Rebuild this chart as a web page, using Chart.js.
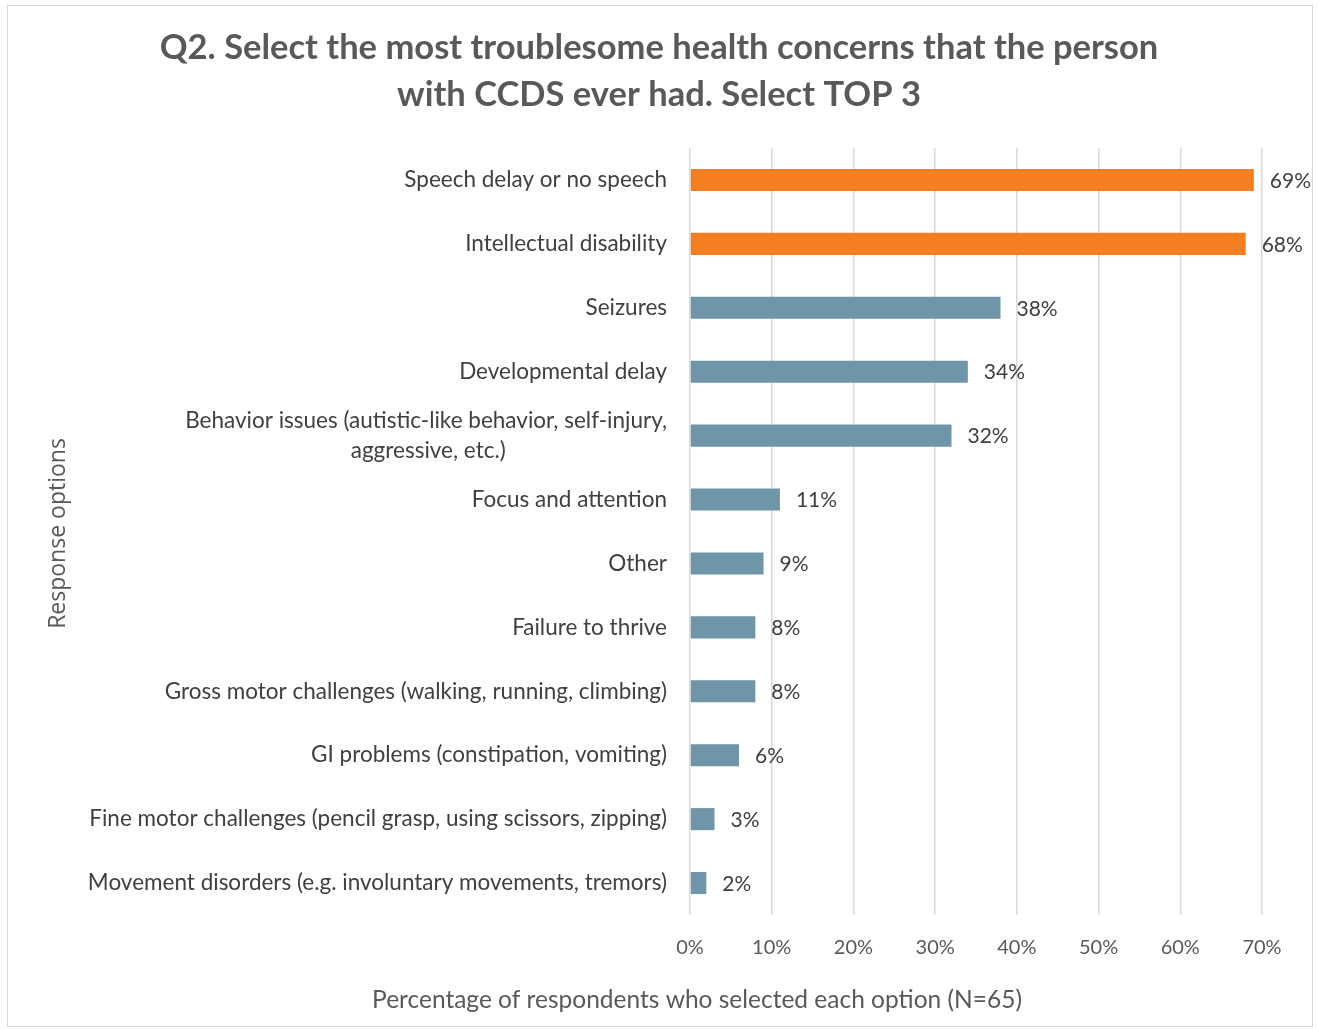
<!DOCTYPE html>
<html>
<head>
<meta charset="utf-8">
<script src="https://cdn.jsdelivr.net/npm/chart.js@4/dist/chart.umd.min.js"></script>
<style>
  html, body { margin: 0; padding: 0; background: #fff; }
  #wrap {
    position: absolute; left: 7px; top: 5px;
    width: 1306px; height: 1022px;
    border: 1px solid #d9d9d9; box-sizing: border-box;
  }
  #chart { display: block; }
</style>
</head>
<body>
<div id="wrap"><canvas id="chart" width="1304" height="1020"></canvas></div>
<script>
/* ── datos ─────────────────────────────────────────── */
const OPTIONS = [
  'Speech delay or no speech',
  'Intellectual disability',
  'Seizures',
  'Developmental delay',
  ['Behavior issues (autistic-like behavior, self-injury,', 'aggressive, etc.)'],
  'Focus and attention',
  'Other',
  'Failure to thrive',
  'Gross motor challenges (walking, running, climbing)',
  'GI problems (constipation, vomiting)',
  'Fine motor challenges (pencil grasp, using scissors, zipping)',
  'Movement disorders (e.g. involuntary movements, tremors)'
];
const PERCENTS = [69, 68, 38, 34, 32, 11, 9, 8, 8, 6, 3, 2];
const X_TICKS = [0, 10, 20, 30, 40, 50, 60, 70];

const TITLE = ['Q2. Select the most troublesome health concerns that the person',
               'with CCDS ever had. Select TOP 3'];
const X_TITLE = 'Percentage of respondents who selected each option (N=65)';
const Y_TITLE = 'Response options';

/* ── estilo ────────────────────────────────────────── */
const ORANGE = '#f47e20';
const BLUE   = '#6e95a8';
const TOP_N  = 2;          // barras resaltadas
const FONT   = "Lato, 'Open Sans', sans-serif";
const Y_FONT_SIZE = 22.5;

// centra las líneas de una etiqueta de varias líneas (relleno con espacios al final)
const measure = document.createElement('canvas').getContext('2d');
function centerLines(label) {
  if (!Array.isArray(label)) return label;
  measure.font = `${Y_FONT_SIZE}px ${FONT}`;
  const widths = label.map(l => measure.measureText(l).width);
  const maxW = Math.max(...widths);
  const sp = measure.measureText(' ').width;
  return label.map((l, i) => l + ' '.repeat(Math.round((maxW - widths[i]) / 2 / sp)));
}

// etiquetas de valor a la derecha de cada barra
const valueLabels = {
  id: 'valueLabels',
  afterDatasetsDraw(chart) {
    const { ctx } = chart;
    const meta = chart.getDatasetMeta(0);
    ctx.save();
    ctx.font = `21px ${FONT}`;
    ctx.fillStyle = '#404040';
    ctx.textAlign = 'left';
    ctx.textBaseline = 'middle';
    meta.data.forEach((bar, i) => {
      ctx.fillText(PERCENTS[i] + '%', bar.x + 16, bar.y + 1);
    });
    ctx.restore();
  }
};

// títulos de los ejes
const axisTitles = {
  id: 'axisTitles',
  afterDraw(chart) {
    const { ctx, chartArea } = chart;
    ctx.save();
    ctx.fillStyle = '#595959';
    ctx.textAlign = 'center';
    ctx.textBaseline = 'middle';
    ctx.font = `24.5px ${FONT}`;
    ctx.fillText(X_TITLE, 689, 994);
    ctx.translate(50, (chartArea.top + chartArea.bottom) / 2 + 2);
    ctx.rotate(-Math.PI / 2);
    ctx.font = "23px 'Open Sans', sans-serif";
    ctx.fillText(Y_TITLE, 0, 0);
    ctx.restore();
  }
};

new Chart(document.getElementById('chart'), {
  type: 'bar',
  data: {
    labels: OPTIONS,
    datasets: [{
      data: PERCENTS,
      backgroundColor: c => c.dataIndex < TOP_N ? ORANGE : BLUE,
      categoryPercentage: 1,
      barPercentage: 0.345,
    }],
  },
  options: {
    indexAxis: 'y',
    responsive: false, animation: false,
    layout: { padding: { left: 48, right: 50, top: 0, bottom: 0 } },
    scales: {
      x: {
        min: 0, max: 70,
        afterBuildTicks: s => { s.ticks = X_TICKS.map(v => ({ value: v })); },
        afterFit: s => { s.height = 111; },
        grid: { color: '#d9d9d9', lineWidth: 1.5, drawTicks: false },
        border: { display: false },
        ticks: {
          padding: 21, color: '#595959',
          font: { family: FONT, size: 20 },
          callback: v => v + '%',
        },
      },
      y: {
        afterFit: s => { s.width = 634; },
        grid: { display: false, drawTicks: false },
        border: { display: false },
        ticks: {
          padding: 23, color: '#404040',
          font: { family: FONT, size: Y_FONT_SIZE, lineHeight: 1.35 },
          callback(v) { return centerLines(this.getLabelForValue(v)); },
        },
      },
    },
    plugins: {
      legend: { display: false },
      tooltip: { enabled: false },
      title: {
        display: true, text: TITLE, color: '#595959',
        font: { family: FONT, size: 34.5, weight: 'bold', lineHeight: 1.362 },
        padding: { top: 18.5, bottom: 29.5 },
      },
    },
  },
  plugins: [valueLabels, axisTitles],
});
</script>
</body>
</html>
